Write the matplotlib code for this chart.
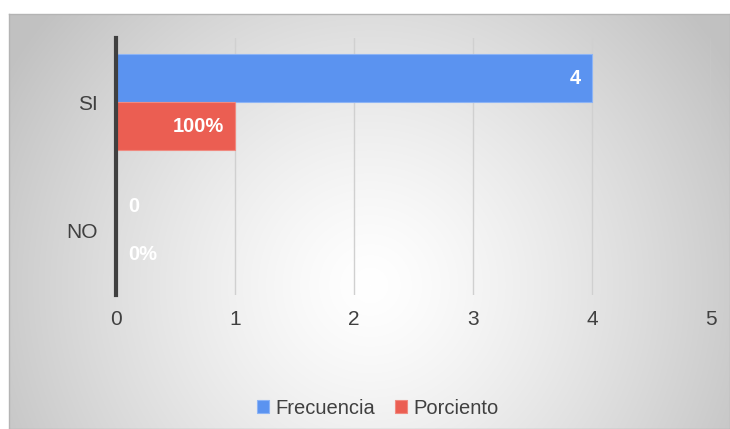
import numpy as np
import matplotlib.pyplot as plt

categories = ['SI', 'NO']
frecuencia = [4, 0]
porciento = [1, 0]
frec_labels = ['4', '0']
porc_labels = ['100%', '0%']

blue = '#5b93f0'
red = '#eb5e52'

plt.rcParams['font.family'] = ['Liberation Sans', 'DejaVu Sans']

fig = plt.figure(figsize=(7.3, 4.29), dpi=100)

# radial gradient background of the chart area
bg = fig.add_axes([9 / 730, 0, 721 / 730, 415 / 429])
h, w = 415, 721
yy, xx = np.mgrid[0:h, 0:w]
cx, cy = 370 - 9, 285 - 14
r = np.sqrt(((xx - cx) / 1.0) ** 2 + ((yy - cy) / 1.0) ** 2)
r = np.clip(r / 420, 0, 1)
val = 1.0 - 0.24 * r ** 1.3
img = np.dstack([val, val, val])
bg.imshow(img, aspect='auto', extent=[0, 1, 0, 1], interpolation='bilinear')
bg.set_xlim(0, 1)
bg.set_ylim(0, 1)
bg.set_xticks([])
bg.set_yticks([])
for s in bg.spines.values():
    s.set_color('#b4b4b4')
    s.set_linewidth(1)

ax = fig.add_axes([116 / 730, 1 - 295 / 429, 595 / 730, 257 / 429])
ax.patch.set_alpha(0)

y = np.arange(len(categories))
bh = 0.375
b1 = ax.barh(y - bh / 2, frecuencia, height=bh, color=blue, edgecolor='#8db4f5', linewidth=0.8,
             label='Frecuencia', zorder=3)
b2 = ax.barh(y + bh / 2, porciento, height=bh, color=red, edgecolor='#f08a80', linewidth=0.8,
             label='Porciento', zorder=3)

for bars, labels in [(b1, frec_labels), (b2, porc_labels)]:
    for rect, lab in zip(bars, labels):
        wv = rect.get_width()
        yc = rect.get_y() + rect.get_height() / 2
        if wv > 0:
            ax.annotate(lab, (wv, yc), xytext=(-8, 0), textcoords='offset points',
                        ha='right', va='center', color='white', fontsize=14.5,
                        fontweight='bold', zorder=4)
        else:
            ax.annotate(lab, (0, yc), xytext=(9, 0), textcoords='offset points',
                        ha='left', va='center', color='white', fontsize=14.5,
                        fontweight='bold', zorder=4)

ax.set_xlim(0, 5)
ax.set_ylim(1.5, -0.5)
ax.set_yticks(y)
ax.set_yticklabels(categories)
ax.set_xticks(range(6))
ax.tick_params(axis='both', length=0, labelsize=15, labelcolor='#404040')
ax.tick_params(axis='y', pad=13)
ax.tick_params(axis='x', pad=11)
ax.grid(axis='x', color='#d0d0d0', linewidth=1, zorder=0)
for s in ['top', 'right', 'bottom']:
    ax.spines[s].set_visible(False)
ax.spines['left'].set_color('#404040')
ax.spines['left'].set_linewidth(3)
ax.spines['left'].set_zorder(5)

fig.legend(handles=[b1, b2], loc='center', bbox_to_anchor=(378 / 730, 1 - 408 / 429),
           ncol=2, frameon=False, fontsize=14.5, handlelength=0.6, handleheight=0.6,
           handletextpad=0.3, columnspacing=1.0, labelcolor='#404040')

fig.savefig('out.png', dpi=100)
